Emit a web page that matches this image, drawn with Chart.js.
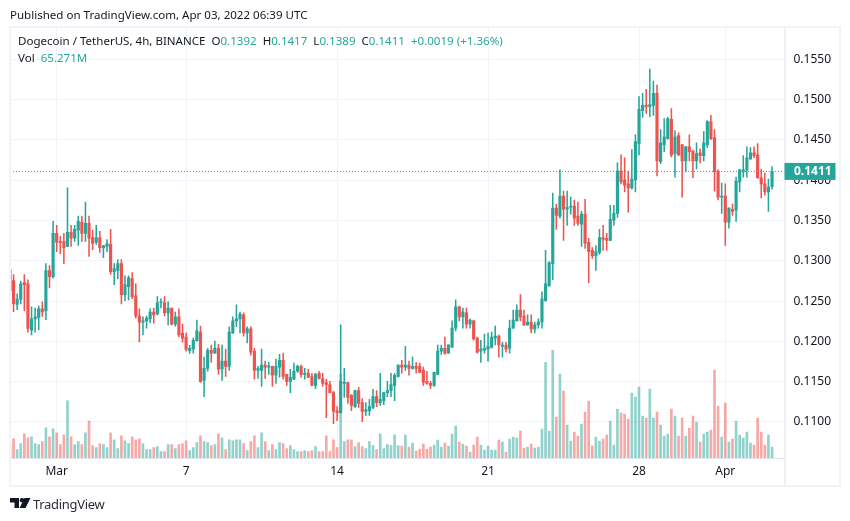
<!DOCTYPE html>
<html>
<head>
<meta charset="utf-8">
<script src="https://cdn.jsdelivr.net/npm/chart.js@4"></script>
<style>
  body { margin: 0; background: #fff; font-family: "Noto Sans", sans-serif; color: #131722; font-size: 11.55px; }
  .txt { position: absolute; white-space: pre; line-height: 16px; }
  .up { color: #26a69a; }
  #frame { position: absolute; left: 9px; top: 26px; width: 828px; height: 457px; border: 2px solid #f0f3fa; }
</style>
</head>
<body>
<canvas id="chartDoge" width="850" height="521" style="position:absolute;left:0;top:0"></canvas>
<div id="frame"></div>
<div class="txt" style="left:10px;top:7px">Published on TradingView.com, Apr 03, 2022 06:39 UTC</div>
<div class="txt" style="left:18px;top:33px">Dogecoin / TetherUS, 4h, BINANCE  O<span class="up">0.1392</span>  H<span class="up">0.1417</span>  L<span class="up">0.1389</span>  C<span class="up">0.1411</span>  <span class="up">+0.0019 (+1.36%)</span></div>
<div class="txt" style="left:18px;top:50px">Vol  <span class="up">65.271M</span></div>
<svg style="position:absolute;left:10px;top:497px" width="21" height="12" viewBox="0 0 21 12">
  <path d="M0 1h9v10H4.500V5.500H0z M14.500 1h6L15.500 11H9.500z" fill="#131722"/>
  <circle cx="12" cy="3.300" r="2.300" fill="#131722"/>
</svg>
<div class="txt" style="left:33px;top:495px;font-size:13px;letter-spacing:-0.3px;line-height:18px;color:#2a2e39">TradingView</div>
<script>
// 4h candles, first one is 13 bars before 1 March
const firstIndex = -13;

const opens = [
  0.1263,0.12755,0.1246,0.1252,0.1273,0.12715,0.1214,0.1228,0.12295,0.12405,
  0.1238,0.1288,0.12805,0.1334,0.1324,0.1324,0.1318,0.13355,0.1328,0.1338,
  0.1348,0.1334,0.13465,0.1329,0.1323,0.1329,0.13165,0.1318,0.13205,0.12865,
  0.1288,0.12965,0.1258,0.1268,0.1278,0.12565,0.12315,0.1224,0.12255,0.1228,
  0.12365,0.1234,0.1248,0.1248,0.12355,0.12415,0.12215,0.12305,0.12105,0.12055,
  0.11885,0.11905,0.12005,0.12115,0.11515,0.11665,0.1189,0.11855,0.11915,0.11655,
  0.11755,0.1169,0.12105,0.12255,0.1228,0.1233,0.12105,0.12155,0.1188,0.1164,
  0.1164,0.11705,0.1168,0.1169,0.1158,0.1168,0.11765,0.1159,0.11505,0.1153,
  0.1163,0.1169,0.1159,0.11605,0.11565,0.11455,0.11605,0.1154,0.1149,0.11465,
  0.11365,0.1114,0.11115,0.1148,0.1149,0.1133,0.1119,0.1139,0.1124,0.1113,
  0.1114,0.1118,0.11315,0.1124,0.11265,0.11365,0.1139,0.11455,0.11565,0.11705,
  0.1168,0.11705,0.11665,0.1169,0.1169,0.1164,0.11505,0.1148,0.11455,0.1159,
  0.1188,0.11915,0.11855,0.1193,0.12165,0.1243,0.12305,0.12355,0.12215,0.12255,
  0.1204,0.1188,0.1189,0.11905,0.1193,0.1204,0.12065,0.1194,0.11955,0.11915,
  0.12165,0.12255,0.1239,0.12315,0.12205,0.1224,0.12155,0.12205,0.1224,0.12505,
  0.1269,0.12965,0.13655,0.13555,0.13805,0.1364,0.13665,0.1368,0.13555,0.13455,
  0.1358,0.1323,0.1313,0.13065,0.13105,0.1329,0.1328,0.13255,0.13505,0.1359,
  0.14115,0.14005,0.13955,0.13905,0.14005,0.14455,0.14865,0.1493,0.14915,0.1493,
  0.1508,0.1423,0.1444,0.14515,0.14755,0.1433,0.14555,0.1444,0.1424,0.14415,
  0.14365,0.1424,0.1434,0.14305,0.1444,0.1473,0.1453,0.14115,0.1379,0.13805,
  0.1348,0.1364,0.1363,0.1398,0.14105,0.1413,0.14265,0.1434,0.14315,0.1403,
  0.13955,0.13855,0.1392
];
const highs = [
  0.129,0.1283,0.1259,0.1275,0.1283,0.12765,0.1243,0.12415,0.1244,0.1249,
  0.12965,0.1294,0.1349,0.1344,0.13305,0.1334,0.13905,0.1344,0.1344,0.13555,
  0.13555,0.1373,0.13555,0.1338,0.1344,0.13365,0.1319,0.13265,0.1339,0.12965,
  0.13015,0.13015,0.12815,0.12815,0.12855,0.12715,0.12405,0.12305,0.12315,0.12405,
  0.12415,0.12555,0.1253,0.12555,0.1249,0.12415,0.12365,0.12405,0.12215,0.12105,
  0.1195,0.1204,0.12265,0.1219,0.11805,0.11915,0.11955,0.12005,0.11965,0.11955,
  0.11905,0.1218,0.12305,0.12455,0.12365,0.12355,0.1218,0.1218,0.11915,0.1169,
  0.11905,0.11755,0.1174,0.11695,0.1178,0.1184,0.11855,0.11595,0.11655,0.1173,
  0.11705,0.11705,0.11665,0.11655,0.11605,0.11605,0.1163,0.11605,0.1153,0.11505,
  0.1138,0.1119,0.12205,0.11665,0.11495,0.1134,0.11395,0.1143,0.1129,0.1124,
  0.1128,0.11405,0.1139,0.11605,0.1137,0.11505,0.11605,0.11605,0.1171,0.11765,
  0.1194,0.11755,0.11805,0.1174,0.1173,0.1168,0.1163,0.11505,0.1162,0.11955,
  0.11955,0.12055,0.1196,0.12255,0.12515,0.1244,0.12415,0.12415,0.1228,0.12265,
  0.12055,0.12015,0.1209,0.12105,0.12115,0.1219,0.1208,0.1199,0.1199,0.12265,
  0.1239,0.12455,0.1258,0.1239,0.1233,0.1233,0.1224,0.1228,0.12615,0.1313,
  0.1299,0.1384,0.13705,0.1413,0.13865,0.13865,0.1379,0.13755,0.1373,0.13615,
  0.13765,0.1328,0.13165,0.1319,0.1339,0.1344,0.1334,0.1369,0.1369,0.14215,
  0.14315,0.1428,0.14115,0.1438,0.14565,0.1504,0.1508,0.1513,0.1538,0.1523,
  0.1518,0.1463,0.14765,0.1478,0.1489,0.14615,0.1459,0.14445,0.1442,0.14565,
  0.1437,0.14465,0.1439,0.14605,0.1474,0.14805,0.1463,0.1413,0.13965,0.13955,
  0.1366,0.13705,0.1404,0.14135,0.14305,0.14415,0.14405,0.14415,0.14455,0.1414,
  0.1409,0.14015,0.1417
];
const lows = [
  0.1263,0.1237,0.12395,0.12465,0.1238,0.12115,0.1208,0.12115,0.12145,0.1231,
  0.1227,0.12665,0.12785,0.13115,0.1309,0.12965,0.13175,0.1318,0.1324,0.1319,
  0.1324,0.1324,0.13055,0.1314,0.13205,0.13105,0.1304,0.13115,0.1283,0.12705,
  0.1278,0.12465,0.12505,0.12515,0.1253,0.1229,0.11995,0.1208,0.12165,0.1223,
  0.12225,0.1233,0.12415,0.12315,0.12205,0.12205,0.1219,0.12055,0.1199,0.1188,
  0.1185,0.11855,0.12005,0.1149,0.11315,0.1163,0.1174,0.1185,0.1159,0.11515,
  0.11565,0.1164,0.121,0.1218,0.12105,0.12065,0.1198,0.1183,0.1153,0.1154,
  0.1144,0.1154,0.1159,0.1144,0.1148,0.11555,0.1153,0.11455,0.11365,0.11525,
  0.11615,0.11555,0.1153,0.1155,0.1145,0.11415,0.1153,0.1144,0.11055,0.1136,
  0.1098,0.11015,0.1111,0.11305,0.1123,0.1114,0.1118,0.1118,0.11005,0.1108,
  0.1108,0.11165,0.1119,0.11205,0.11215,0.11315,0.11315,0.11265,0.11555,0.11605,
  0.1164,0.1158,0.11655,0.11605,0.1161,0.11455,0.11465,0.11415,0.1144,0.11585,
  0.1184,0.1184,0.1185,0.11925,0.1213,0.12255,0.12165,0.12165,0.12165,0.12015,
  0.11855,0.1174,0.11855,0.11755,0.11915,0.11955,0.11805,0.11805,0.11865,0.11855,
  0.1216,0.1225,0.12255,0.122,0.122,0.12105,0.12105,0.12165,0.12165,0.125,
  0.12685,0.12765,0.1339,0.1353,0.13255,0.1344,0.1358,0.1344,0.1344,0.1318,
  0.13155,0.1273,0.1303,0.1288,0.1308,0.1313,0.1313,0.1325,0.1344,0.1354,
  0.13955,0.13855,0.13605,0.1389,0.13855,0.14315,0.1478,0.1483,0.1479,0.14805,
  0.14055,0.14205,0.14355,0.1451,0.1429,0.1404,0.14305,0.1379,0.14105,0.1424,
  0.1403,0.1414,0.14215,0.1424,0.14405,0.14505,0.13865,0.13755,0.1359,0.1319,
  0.13405,0.13565,0.1349,0.13855,0.1404,0.1404,0.1426,0.1428,0.14025,0.1378,
  0.13815,0.13615,0.1389
];
const closes = [
  0.1289,0.1247,0.12525,0.12715,0.12705,0.1216,0.1228,0.12305,0.12405,0.12365,
  0.1288,0.12805,0.1334,0.1323,0.1323,0.13165,0.13355,0.1328,0.1339,0.1349,
  0.1334,0.13465,0.1328,0.13215,0.1329,0.13165,0.1319,0.13215,0.12865,0.12905,
  0.12965,0.1258,0.12705,0.1279,0.12555,0.12315,0.1224,0.12255,0.1229,0.12365,
  0.1233,0.1248,0.1249,0.12355,0.12415,0.12215,0.12305,0.1208,0.1204,0.119,
  0.11915,0.12015,0.1213,0.11505,0.11665,0.1189,0.11855,0.11915,0.11655,0.11755,
  0.1169,0.12115,0.12255,0.1228,0.1234,0.12105,0.12155,0.11865,0.1164,0.11665,
  0.11705,0.1168,0.1169,0.1158,0.1169,0.11765,0.11565,0.11505,0.11555,0.1163,
  0.1169,0.1159,0.11605,0.11555,0.11455,0.1159,0.1154,0.1148,0.11465,0.11365,
  0.1113,0.11115,0.11505,0.1149,0.11305,0.11205,0.1139,0.1123,0.1113,0.11155,
  0.1119,0.11315,0.1124,0.1128,0.11365,0.1139,0.11465,0.1158,0.11705,0.1168,
  0.11705,0.11665,0.1169,0.11665,0.11615,0.1149,0.1148,0.11455,0.11615,0.1188,
  0.11915,0.11855,0.11955,0.12165,0.1243,0.12305,0.12365,0.12215,0.12265,0.1203,
  0.11865,0.11905,0.11915,0.1194,0.12055,0.12065,0.11955,0.11955,0.11905,0.12165,
  0.12265,0.1239,0.12305,0.12205,0.1224,0.12155,0.12205,0.1224,0.1253,0.12715,
  0.1298,0.13655,0.13565,0.13805,0.1364,0.13665,0.1368,0.1353,0.13465,0.1358,
  0.13215,0.13115,0.13065,0.13115,0.1329,0.13265,0.13255,0.13515,0.1359,0.14115,
  0.1398,0.1394,0.13905,0.14015,0.1448,0.1488,0.1493,0.14915,0.1494,0.1508,
  0.1424,0.14465,0.1454,0.14765,0.14315,0.1454,0.14315,0.1424,0.14415,0.14355,
  0.1424,0.1433,0.14305,0.14465,0.1473,0.14515,0.14105,0.1379,0.13805,0.1348,
  0.13655,0.13615,0.1399,0.1413,0.1413,0.1428,0.1434,0.14305,0.1403,0.13955,
  0.13855,0.13915,0.1411
];
// volume in millions
const volumes = [
  80,116,50,86,146,122,128,86,80,98,
  182,128,176,152,80,140,344,128,80,98,
  80,152,224,74,62,86,80,62,152,110,
  56,134,104,86,128,110,116,86,50,50,
  62,68,38,38,80,80,56,80,86,104,
  44,62,92,134,98,92,74,80,146,122,
  50,110,104,110,110,86,44,98,134,62,
  152,98,44,80,50,92,86,56,74,50,
  38,38,44,38,44,68,38,38,134,38,
  110,62,504,98,110,110,68,92,68,56,
  98,74,50,146,56,80,74,140,74,72,
  138,66,90,42,54,84,54,66,78,108,
  66,90,72,144,192,96,84,72,36,78,
  126,78,48,72,48,48,108,96,36,114,
  126,120,162,60,66,84,60,66,174,576,
  162,648,246,504,402,198,102,156,132,204,
  276,342,72,126,102,114,138,222,78,294,
  270,264,234,390,366,426,252,240,414,240,
  276,198,132,144,294,252,132,240,132,180,
  252,216,96,144,156,168,528,312,126,330,
  96,114,222,138,120,156,90,78,240,156,
  78,138,65.271
];

const priceTicks = [0.11,0.115,0.12,0.125,0.13,0.135,0.14,0.145,0.15,0.155];
const timeTicks = [0,36,78,120,162,186];
const timeLabels = ["Mar","7","14","21","28","Apr"];
const lastPrice = 0.1411;

const UP = "#26a69a";
const DOWN = "#ef5350";
const GRID = "#f0f3fa";

const isUp = (i) => closes[i] >= opens[i];
const xOf = (i) => i + firstIndex;

const priceTag = {
  id: "priceTag",
  afterDraw(chart) {
    const { ctx, chartArea, scales } = chart;
    const y = scales.y.getPixelForValue(lastPrice);
    ctx.save();
    ctx.strokeStyle = "#e0e3eb";
    ctx.lineWidth = 1;
    ctx.beginPath();
    ctx.moveTo(chartArea.right + 0.5, chartArea.top);
    ctx.lineTo(chartArea.right + 0.5, 485);
    ctx.moveTo(chartArea.left, chartArea.bottom + 0.5);
    ctx.lineTo(chartArea.right, chartArea.bottom + 0.5);
    ctx.stroke();
    ctx.fillStyle = UP;
    ctx.fillRect(chartArea.right, y - 8.5, 51, 17);
    ctx.fillStyle = "#fff";
    ctx.font = 'bold 12px "Noto Sans"';
    ctx.textBaseline = "middle";
    ctx.fillText(lastPrice.toFixed(4), 794, y);
    ctx.restore();
  },
};

const ctx = document.getElementById("chartDoge").getContext("2d");
const myChart = new Chart(ctx, {
  data: {
    datasets: [
      {
        type: "line",
        data: [{ x: -13, y: lastPrice }, { x: 203, y: lastPrice }],
        borderColor: UP,
        borderWidth: 1,
        borderDash: [1, 2],
        pointRadius: 0,
        order: 4,
      },
      {
        type: "bar",
        yAxisID: "yVolume",
        data: volumes.map((v, i) => ({ x: xOf(i), y: v })),
        backgroundColor: volumes.map((v, i) => (isUp(i) ? "rgba(38,166,154,0.5)" : "rgba(239,83,80,0.5)")),
        barThickness: 2,
        grouped: false,
        order: 3,
      },
      {
        type: "bar",
        yAxisID: "y",
        data: highs.map((h, i) => ({ x: xOf(i), y: [lows[i], h] })),
        backgroundColor: highs.map((h, i) => (isUp(i) ? UP : DOWN)),
        barThickness: 0.9,
        grouped: false,
        order: 2,
      },
      {
        type: "bar",
        yAxisID: "y",
        data: opens.map((o, i) => ({ x: xOf(i), y: [o, closes[i]] })),
        backgroundColor: opens.map((o, i) => (isUp(i) ? UP : DOWN)),
        barThickness: 2.5,
        minBarLength: 1,
        grouped: false,
        order: 1,
      },
    ],
  },
  options: {
    responsive: false,
    animation: false,
    layout: { padding: { left: 11, top: 28, right: 10, bottom: 35 } },
    plugins: { legend: { display: false }, tooltip: { enabled: false } },
    scales: {
      x: {
        type: "linear",
        offset: false,
        min: -12.71,
        max: 202.47,
        afterBuildTicks(axis) {
          axis.ticks = timeTicks.map((v) => ({ value: v }));
        },
        afterFit(axis) {
          axis.height = 28;
        },
        grid: { color: GRID, drawTicks: false, offset: false },
        border: { display: false },
        ticks: {
          autoSkip: false,
          maxRotation: 0,
          padding: 6,
          color: "#131722",
          font: { family: "Noto Sans", size: 12 },
          callback: (v) => timeLabels[timeTicks.indexOf(v)],
        },
      },
      y: {
        position: "right",
        min: 0.10553,
        max: 0.1589,
        afterBuildTicks(axis) {
          axis.ticks = priceTicks.map((v) => ({ value: v }));
        },
        afterFit(axis) {
          axis.width = 55.5;
        },
        grid: { color: GRID, drawTicks: false },
        border: { display: false },
        ticks: {
          padding: 9,
          color: "#131722",
          font: { family: "Noto Sans", size: 12 },
          callback: (v) => v.toFixed(4),
        },
      },
      yVolume: {
        display: false,
        min: 0,
        max: 2586,
      },
    },
  },
  plugins: [priceTag],
});
</script>
</body>
</html>
